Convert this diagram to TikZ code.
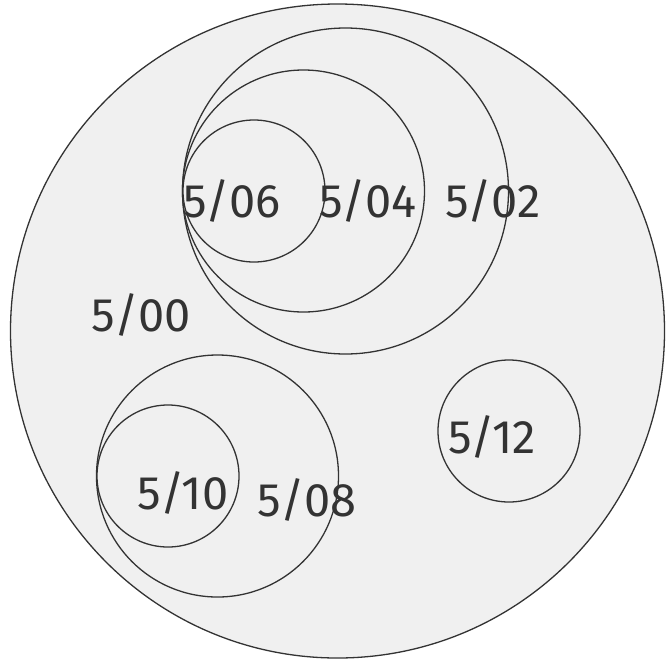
\documentclass[tikz,border=0pt]{standalone}
\usepackage{fontspec}
\setmainfont{Fira Sans}
\definecolor{lineC}{HTML}{333333}
\definecolor{fillC}{HTML}{F0F0F0}
\definecolor{textC}{HTML}{333333}
\begin{document}
\begin{tikzpicture}[x=1pt,y=-1pt,
  ring/.style={circle,draw=lineC,line width=1.3pt,inner sep=0pt,fill=fillC},
  lbl/.style={text=textC,font=\fontsize{47}{52}\selectfont,inner sep=0pt}]
\useasboundingbox (0,0) rectangle (666,662);
\node[ring,minimum size=654pt] (c00) at (337.5,331) {};
\node[ring,minimum size=326pt] (c02) at (345.5,191) {};
\node[ring,minimum size=242pt] (c04) at (303.5,191) {};
\node[ring,minimum size=142pt] (c06) at (254,191) {};
\node[ring,minimum size=242pt] (c08) at (217.5,476) {};
\node[ring,minimum size=142pt] (c10) at (168,476) {};
\node[ring,minimum size=142pt] (c12) at (509,431) {};
\node[lbl] (l06) at (232,201) {5/06};
\node[lbl] (l04) at (368,201) {5/04};
\node[lbl] (l02) at (493,201) {5/02};
\node[lbl] (l00) at (141,315) {5/00};
\node[lbl] (l12) at (492,437) {5/12};
\node[lbl] (l10) at (183,493) {5/10};
\node[lbl] (l08) at (307,500) {5/08};
\end{tikzpicture}
\end{document}
